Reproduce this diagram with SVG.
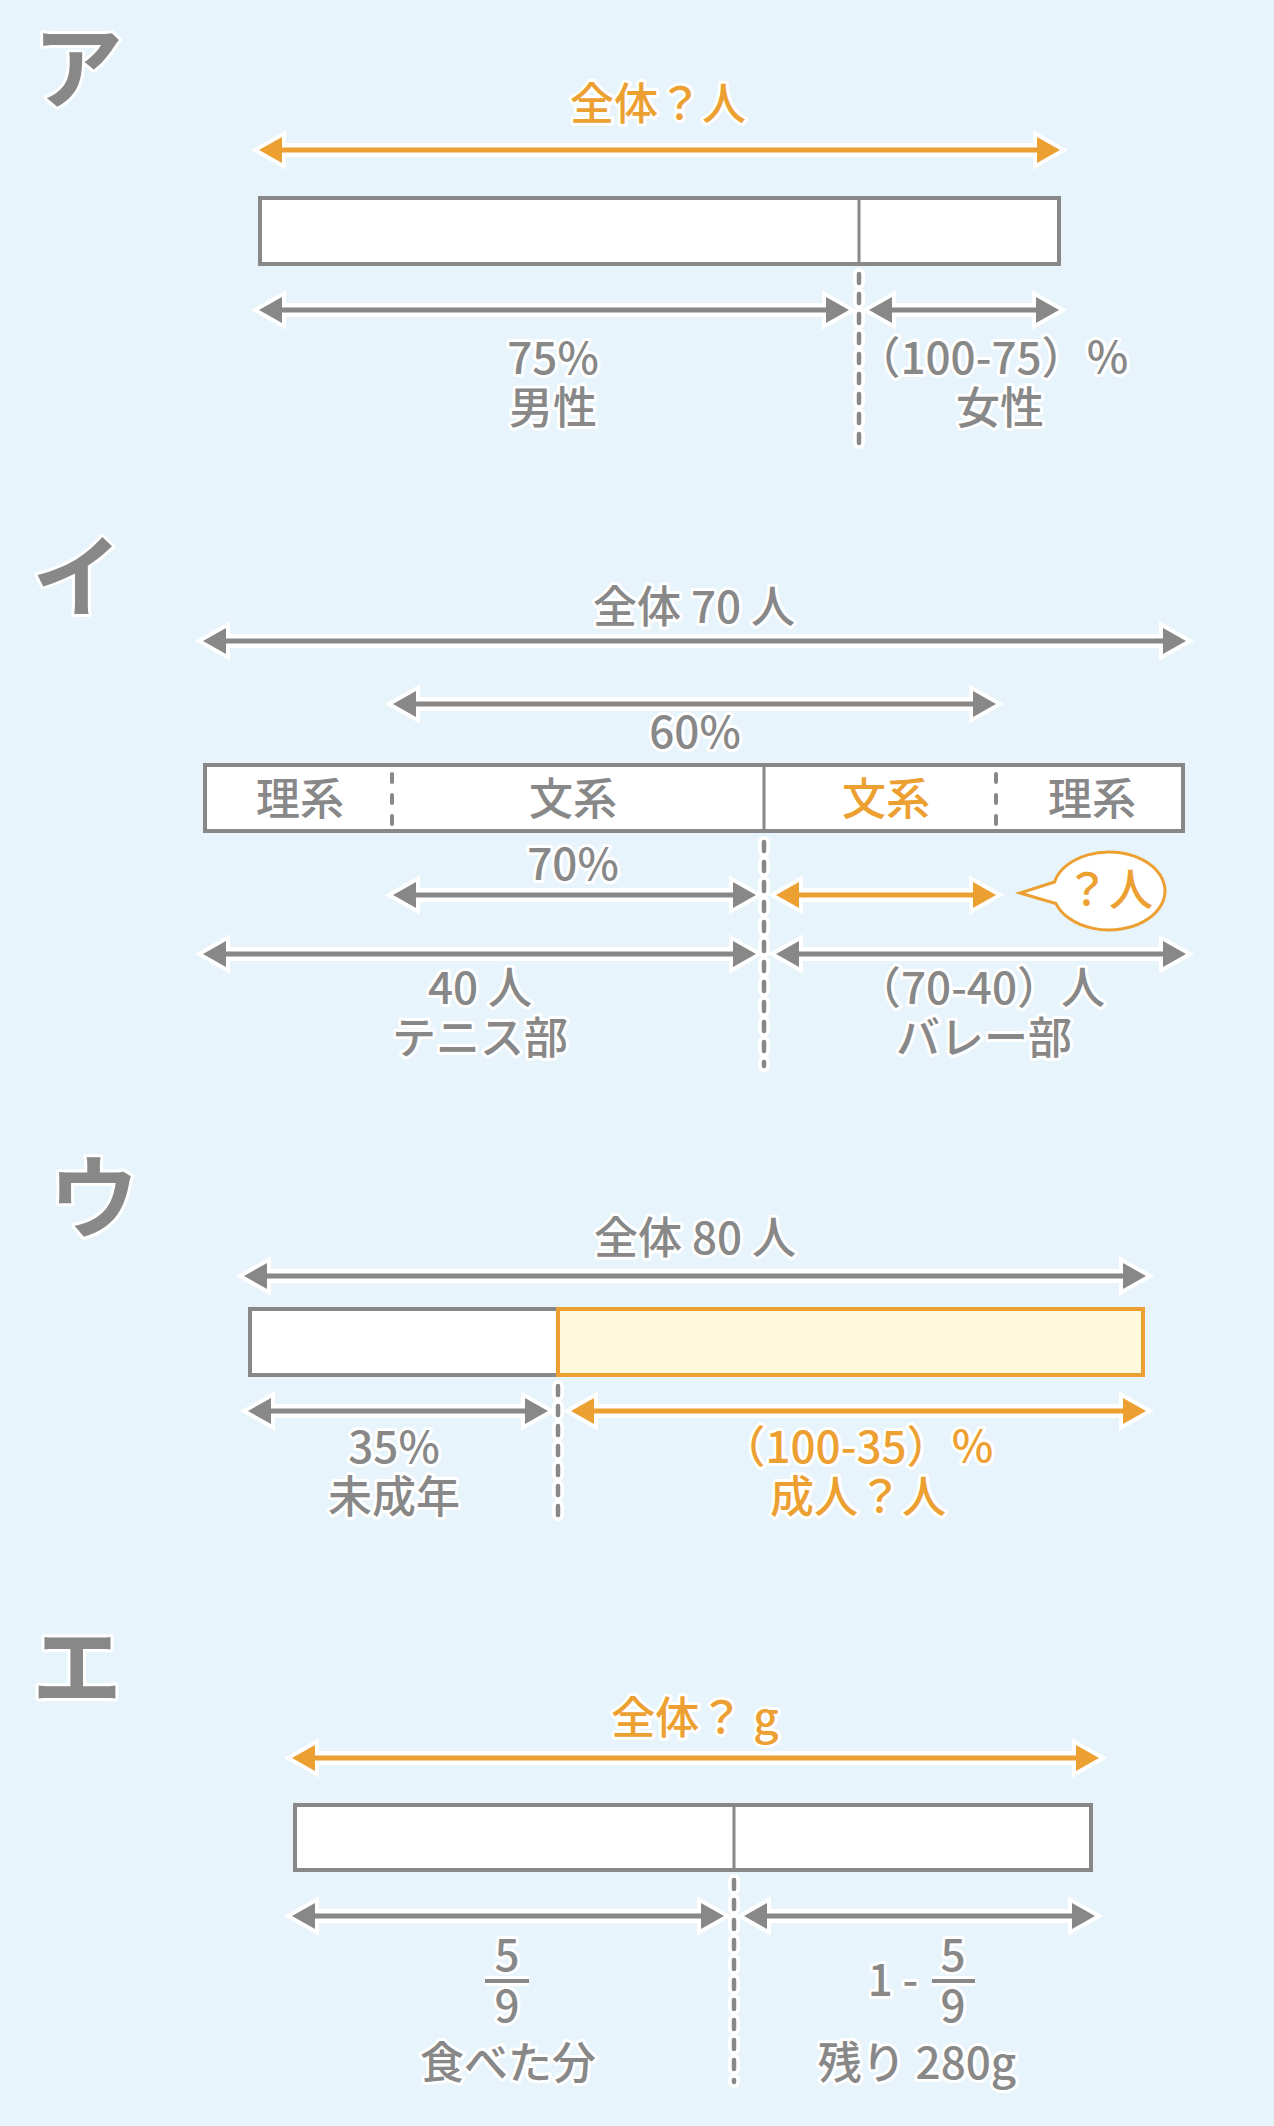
<svg xmlns="http://www.w3.org/2000/svg" width="1274" height="2126" viewBox="0 0 1274 2126">
<style>
.t{font-family:"Noto Sans CJK JP","Noto Sans",sans-serif;font-size:44px;font-weight:500;text-anchor:middle;fill:#888;stroke:#fff;stroke-width:6px;stroke-linejoin:round;paint-order:stroke}
.o{fill:#EDA032}
.big{font-family:"Noto Sans CJK JP","Noto Sans",sans-serif;font-size:90px;font-weight:700;fill:#888;stroke:#fff;stroke-width:6px;stroke-linejoin:round;paint-order:stroke}
.plain{stroke:none}
.bar{fill:#fff;stroke:#888;stroke-width:4}
.div{stroke:#888;stroke-width:3;fill:none}
.h{fill:#fff;stroke:#fff;stroke-width:8;stroke-miterlimit:10}
.hl{stroke:#fff;stroke-width:14;fill:none}
.l{stroke-width:5;fill:none}
.lg{stroke:#888}.lo{stroke:#EDA032}
.fg{fill:#888}.fo{fill:#EDA032}
.dh{stroke:#fff;stroke-width:12;stroke-linecap:round;stroke-dasharray:9 11;fill:none}
.dl{stroke:#888;stroke-width:4.5;stroke-linecap:round;stroke-dasharray:9 11;fill:none}
.di{stroke:#888;stroke-width:4;stroke-linecap:round;stroke-dasharray:8 13;fill:none}
.fr{stroke:#888;stroke-width:4;fill:none}
.frh{stroke:#fff;stroke-width:10;fill:none}
</style>
<rect width="1274" height="2126" fill="#E7F4FC"/>

<!-- Section A -->
<g id="sectionA">
<text class="big" x="33" y="101">ア</text>
<rect id="barA" class="bar" x="260" y="198" width="799" height="66"/>
<path class="div" d="M859 198V264"/>
<text class="t o" x="658" y="120">全体？人</text>
<text class="t" x="553" y="374">75%</text>
<text class="t" x="553" y="424">男性</text>
<text class="t" x="993" y="374">（100-75）％</text>
<text class="t" x="1000" y="424">女性</text>
</g>

<!-- Section I -->
<g id="sectionI">
<text class="big" x="32" y="610">イ</text>
<rect id="barI" class="bar" x="205" y="765" width="978" height="66"/>
<path class="div" d="M764 765V831"/>
<path class="di" d="M392 774V824M996 774V824"/>
<text class="t" x="694" y="623">全体 70 人</text>
<text class="t" x="695" y="748">60%</text>
<text class="t plain" x="300" y="815">理系</text>
<text class="t plain" x="573" y="815">文系</text>
<text class="t plain o" x="886" y="815">文系</text>
<text class="t plain" x="1092" y="815">理系</text>
<text class="t" x="573" y="880">70%</text>
<g id="bubble">
<path d="M1054.5 882L1020 893L1056 903.6A56 39 0 1 0 1054.5 882Z" fill="#fff" stroke="#EDA032" stroke-width="3" stroke-linejoin="miter"/>
<text class="t plain o" x="1109" y="906">？人</text>
</g>
<text class="t" x="480" y="1004">40 人</text>
<text class="t" x="480" y="1054">テニス部</text>
<text class="t" x="981" y="1004">（70-40）人</text>
<text class="t" x="984" y="1054">バレー部</text>
</g>

<!-- Section U -->
<g id="sectionU">
<text class="big" x="49" y="1231">ウ</text>
<rect class="bar" x="250" y="1309" width="308" height="66"/>
<rect x="558" y="1309" width="585" height="66" fill="#FEF8DC" stroke="#EDA032" stroke-width="4"/>
<text class="t" x="695" y="1254">全体 80 人</text>
<text class="t" x="394" y="1463">35%</text>
<text class="t" x="394" y="1513">未成年</text>
<text class="t o" x="858" y="1463">（100-35）％</text>
<text class="t o" x="858" y="1513">成人？人</text>
</g>

<!-- Section E -->
<g id="sectionE">
<text class="big" x="32" y="1700">エ</text>
<rect class="bar" x="295" y="1805" width="796" height="65"/>
<path class="div" d="M734 1805V1870"/>
<text class="t o" x="695" y="1734">全体？ g</text>
<text class="t" x="507" y="1971">5</text>
<path class="frh" d="M485 1981H529"/>
<path class="fr" d="M485 1981H529"/>
<text class="t" x="507" y="2022">9</text>
<text class="t" x="508" y="2079">食べた分</text>
<text class="t" x="893" y="1996">1 -</text>
<text class="t" x="953" y="1971">5</text>
<path class="frh" d="M932 1981H975"/>
<path class="fr" d="M932 1981H975"/>
<text class="t" x="953" y="2022">9</text>
<text class="t" x="917" y="2079">残り 280g</text>
</g>

<!-- connectors -->
<g id="connectors">
<path class="dh" d="M859 274V445M764 842V1066M558 1386V1516M734 1880V2082"/>
<path class="dl" d="M859 274V445M764 842V1066M558 1386V1516M734 1880V2082"/>

<path class="h" d="M259 150l23-13v26zM1060 150l-23-13v26z"/>
<path class="hl" d="M269 150H1050"/>
<path class="l lo" d="M279 150H1040"/>
<path class="fo" d="M259 150l23-13v26zM1060 150l-23-13v26z"/>

<path class="h" d="M259 310l23-13v26zM849 310l-23-13v26zM869 310l23-13v26zM1059 310l-23-13v26z"/>
<path class="hl" d="M269 310H839M879 310H1049"/>
<path class="l lg" d="M279 310H829M889 310H1039"/>
<path class="fg" d="M259 310l23-13v26zM849 310l-23-13v26zM869 310l23-13v26zM1059 310l-23-13v26z"/>

<path class="h" d="M203 641l23-13v26zM1186 641l-23-13v26zM393 704l23-13v26zM996 704l-23-13v26zM393 895l23-13v26zM756 895l-23-13v26zM203 954l23-13v26zM756 954l-23-13v26zM776 954l23-13v26zM1186 954l-23-13v26zM776 895l23-13v26zM996 895l-23-13v26z"/>
<path class="hl" d="M213 641H1176M403 704H986M403 895H746M213 954H746M786 954H1176M786 895H986"/>
<path class="l lg" d="M223 641H1166M413 704H976M413 895H736M223 954H736M796 954H1166"/>
<path class="fg" d="M203 641l23-13v26zM1186 641l-23-13v26zM393 704l23-13v26zM996 704l-23-13v26zM393 895l23-13v26zM756 895l-23-13v26zM203 954l23-13v26zM756 954l-23-13v26zM776 954l23-13v26zM1186 954l-23-13v26z"/>
<path class="l lo" d="M796 895H976"/>
<path class="fo" d="M776 895l23-13v26zM996 895l-23-13v26z"/>

<path class="h" d="M244 1276l23-13v26zM1146 1276l-23-13v26zM248 1411l23-13v26zM548 1411l-23-13v26zM571 1411l23-13v26zM1146 1411l-23-13v26z"/>
<path class="hl" d="M254 1276H1136M258 1411H538M581 1411H1136"/>
<path class="l lg" d="M264 1276H1126M268 1411H528"/>
<path class="fg" d="M244 1276l23-13v26zM1146 1276l-23-13v26zM248 1411l23-13v26zM548 1411l-23-13v26z"/>
<path class="l lo" d="M591 1411H1126"/>
<path class="fo" d="M571 1411l23-13v26zM1146 1411l-23-13v26z"/>

<path class="h" d="M292 1758l23-13v26zM1099 1758l-23-13v26zM292 1916l23-13v26zM724 1916l-23-13v26zM744 1916l23-13v26zM1095 1916l-23-13v26z"/>
<path class="hl" d="M302 1758H1089M302 1916H714M754 1916H1085"/>
<path class="l lo" d="M312 1758H1079"/>
<path class="fo" d="M292 1758l23-13v26zM1099 1758l-23-13v26z"/>
<path class="l lg" d="M312 1916H704M764 1916H1075"/>
<path class="fg" d="M292 1916l23-13v26zM724 1916l-23-13v26zM744 1916l23-13v26zM1095 1916l-23-13v26z"/>
</g>
</svg>
